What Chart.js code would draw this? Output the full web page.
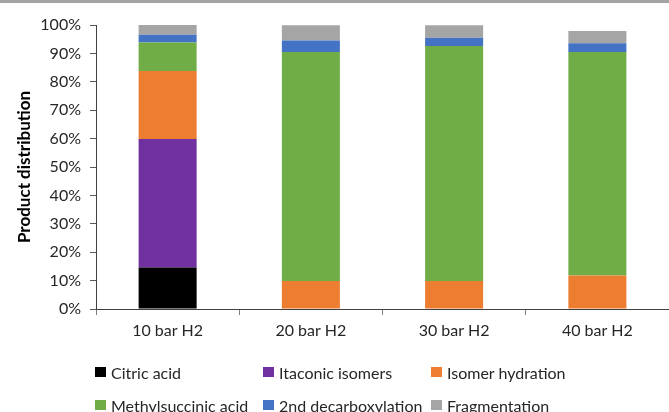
<!DOCTYPE html>
<html lang="en">
<head>
    <meta charset="UTF-8">
    <title>Product distribution</title>
    <script src="https://cdn.jsdelivr.net/npm/chart.js"></script>
    <style>
        body { margin: 0; background: #fff; font-family: Lato, sans-serif; }
        .wrap { position: relative; width: 669px; height: 412px; overflow: hidden; }
        .topbar { position: absolute; left: 0; top: 0; width: 669px; height: 3px; background: #a3a3a3; z-index: 2; }
        .wrap canvas { position: absolute; left: 0; top: 0; }
        .legend { position: absolute; left: 0; top: 0; width: 669px; height: 412px; pointer-events: none; }
        .legend .item { position: absolute; display: flex; align-items: center; font-size: 16px; color: #262626; white-space: nowrap; height: 20px; }
        .legend .box { width: 11px; height: 10px; margin-right: 5px; }
    </style>
</head>
<body>
<div class="wrap">
    <div class="topbar"></div>
    <canvas id="chart" width="669" height="412"></canvas>
    <div class="legend" id="legend"></div>
</div>

<script>
    // data (percent of products)
    const categories = ['10 bar H2', '20 bar H2', '30 bar H2', '40 bar H2'];
    const seriesNames = ['Citric acid', 'Itaconic isomers', 'Isomer hydration', 'Methylsuccinic acid', '2nd decarboxylation', 'Fragmentation'];
    const citricAcid = [14.6, 0, 0, 0];
    const itaconicIsomers = [45.3, 0, 0, 0];
    const isomerHydration = [23.9, 9.9, 9.9, 11.8];
    const methylsuccinicAcid = [10.0, 80.6, 82.7, 78.7];
    const secondDecarboxylation = [2.8, 4.0, 2.9, 3.1];
    const fragmentation = [3.4, 5.4, 4.4, 4.3];
    const seriesColors = ['#000000', '#7030a0', '#ed7d31', '#70ad47', '#4472c4', '#a5a5a5'];

    const series = [citricAcid, itaconicIsomers, isomerHydration, methylsuccinicAcid, secondDecarboxylation, fragmentation];

    const chart = new Chart(document.getElementById('chart'), {
        type: 'bar',
        data: {
            labels: categories,
            datasets: series.map((vals, i) => ({
                label: seriesNames[i],
                data: vals,
                backgroundColor: seriesColors[i],
                borderWidth: 0,
                barPercentage: 0.405,
                categoryPercentage: 1
            }))
        },
        options: {
            responsive: false,
            animation: false,
            layout: { padding: { top: 25, right: -5, left: 0, bottom: 0 } },
            plugins: { legend: { display: false }, tooltip: { enabled: false } },
            scales: {
                x: {
                    stacked: true,
                    grid: { drawOnChartArea: false, drawTicks: true, tickLength: 6, color: '#7f7f7f' },
                    border: { color: '#404040' },
                    ticks: { padding: 6, color: '#262626', font: { family: 'Lato', size: 16 } },
                    afterFit: s => { s.height = 103; }
                },
                y: {
                    stacked: true,
                    min: 0,
                    max: 100,
                    grid: { drawOnChartArea: false, drawTicks: true, tickLength: 6, color: '#595959' },
                    border: { color: '#404040' },
                    ticks: { stepSize: 10, padding: 9, color: '#262626', font: { family: 'Lato', size: 16 }, callback: v => v + '%' },
                    title: { display: true, text: 'Product distribution', color: '#000', padding: { top: 14, bottom: 0 }, font: { family: 'Lato', size: 17, weight: 'bold' } },
                    afterFit: s => { s.width = 96; }
                }
            }
        }
    });

    // legend laid out in columns like the original
    const legendEl = document.getElementById('legend');
    chart.data.datasets.forEach((ds, i) => {
        const item = document.createElement('div');
        item.className = 'item';
        item.style.left = (95 + (i % 3) * 168) + 'px';
        item.style.top = (i < 3 ? 362 : 395) + 'px';
        item.innerHTML = `<span class="box" style="background:${ds.backgroundColor}"></span>${ds.label}`;
        legendEl.appendChild(item);
    });
</script>
</body>
</html>
